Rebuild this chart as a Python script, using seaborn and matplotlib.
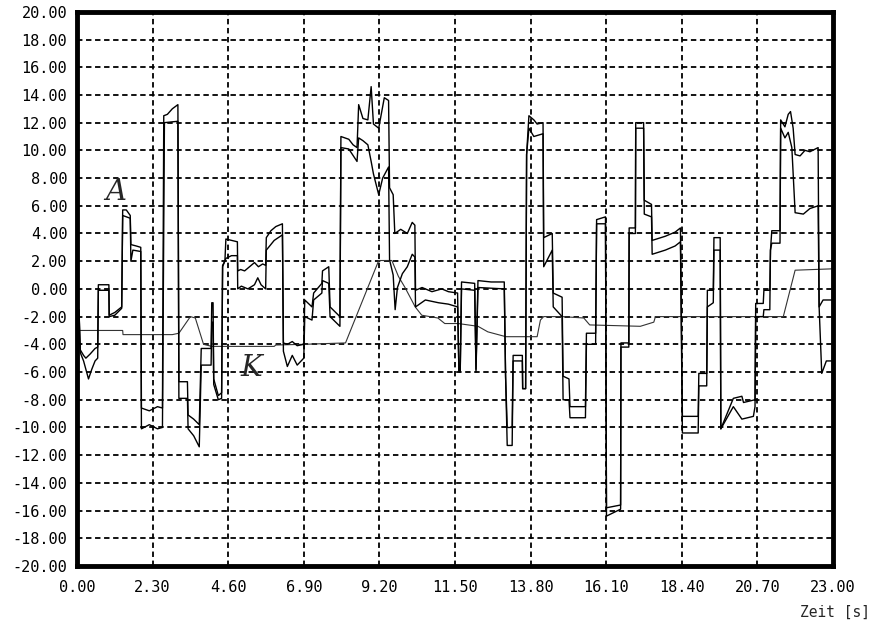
import matplotlib
matplotlib.use("Agg")
import matplotlib.pyplot as plt
import seaborn as sns
import pandas as pd

# Trace A, upper line (time in s, value)
a_upper_t = [0.00, 0.06, 0.10, 0.20, 0.27, 0.40, 0.55, 0.63, 0.65, 0.97, 0.98, 1.15, 1.36, 1.39, 1.50,
             1.62, 1.64, 1.80, 1.94, 1.96, 2.20, 2.45, 2.60, 2.64, 2.75, 2.90, 3.07, 3.10, 3.36, 3.38,
             3.55, 3.72, 3.78, 4.08, 4.10, 4.14, 4.16, 4.30, 4.40, 4.43, 4.50, 4.53, 4.70, 4.88, 4.89,
             4.98, 5.10, 5.25, 5.40, 5.52, 5.65, 5.74, 5.76, 5.90, 6.05, 6.25, 6.28, 6.40, 6.55, 6.70,
             6.90, 6.93, 7.15, 7.20, 7.45, 7.47, 7.66, 7.70, 8.00, 8.03, 8.27, 8.40, 8.52, 8.57, 8.70,
             8.85, 8.95, 9.02, 9.18, 9.35, 9.48, 9.51, 9.62, 9.67, 9.85, 10.05, 10.20, 10.28, 10.30,
             10.50, 10.80, 11.10, 11.30, 11.58, 11.62, 11.66, 11.70, 12.10, 12.14, 12.20, 12.60, 13.00,
             13.04, 13.09, 13.24, 13.27, 13.55, 13.56, 13.65, 13.68, 13.75, 13.90, 14.00, 14.18, 14.20,
             14.46, 14.49, 14.76, 14.79, 14.97, 15.00, 15.47, 15.50, 15.78, 15.81, 16.08, 16.11, 16.54,
             16.55, 16.79, 16.80, 16.99, 17.00, 17.24, 17.26, 17.48, 17.50, 17.90, 18.20, 18.36, 18.42,
             18.90, 18.92, 19.16, 19.18, 19.36, 19.38, 19.57, 19.59, 19.97, 20.23, 20.28, 20.63, 20.65,
             20.88, 20.90, 21.08, 21.10, 21.14, 21.39, 21.41, 21.54, 21.64, 21.71, 21.79, 21.85, 22.00,
             22.15, 22.30, 22.55, 22.58, 22.70, 23.00]
a_upper_v = [-1.5, -1.5, -4.4, -4.8, -5.0, -4.7, -4.3, -4.2, 0.3, 0.3, -1.9, -1.7, -1.3, 5.7, 5.7,
             5.3, 3.2, 3.1, 3.0, -8.6, -8.8, -8.5, -8.6, 12.5, 12.6, 13.0, 13.3, -6.7, -6.7, -9.1,
             -9.4, -9.8, -4.3, -4.3, -1.0, -1.0, -6.5, -7.7, -7.5, 1.7, 2.0, 3.6, 3.5, 3.4, 1.3,
             1.4, 1.3, 1.6, 1.9, 1.6, 1.8, 1.7, 3.7, 4.2, 4.5, 4.7, -3.9, -4.0, -3.8, -4.1,
             -4.0, -0.8, -1.3, -0.3, 0.4, 1.3, 1.6, -1.3, -2.0, 11.0, 10.8, 10.4, 10.2, 13.3, 12.3,
             12.2, 14.6, 11.9, 11.6, 13.8, 13.6, 7.3, 6.8, 4.0, 4.3, 4.0, 4.8, 4.6, -0.1,
             0.1, -0.2, 0.0, -0.2, -0.3, -5.9, -5.9, 0.5, 0.4, -5.8, 0.6, 0.5, 0.5,
             -6.3, -10.0, -10.0, -4.8, -4.8, -7.2, -7.2, 9.7, 12.5, 12.2, 11.9, 12.0, 3.7,
             4.0, -0.3, -0.6, -6.3, -6.5, -8.5, -8.5, -3.2, -3.2, 5.0, 5.2, -15.8, -15.6,
             -3.9, -3.9, 4.4, 4.4, 12.0, 12.0, 6.4, 6.1, 3.5, 3.8, 4.1, 4.4, -9.2,
             -9.2, -6.1, -6.1, -0.1, -0.1, 3.7, 3.7, -10.1, -7.9, -7.75, -8.2, -8.0, -1.05,
             -1.05, -0.1, -0.1, 2.8, 4.2, 4.2, 12.2, 11.7, 12.6, 12.8, 11.6, 9.7, 9.6,
             10.0, 9.9, 10.2, -1.3, -0.8, -0.8]

# Trace A, lower line
a_lower_t = [0.00, 0.06, 0.10, 0.20, 0.35, 0.45, 0.55, 0.63, 0.65, 0.97, 0.98, 1.15, 1.36, 1.39, 1.62,
             1.64, 1.70, 1.94, 1.96, 2.20, 2.45, 2.60, 2.66, 3.07, 3.10, 3.36, 3.38, 3.55, 3.72, 3.78,
             4.08, 4.10, 4.14, 4.16, 4.30, 4.40, 4.43, 4.53, 4.70, 4.88, 4.89, 5.00, 5.20, 5.40, 5.50,
             5.60, 5.74, 5.76, 6.00, 6.25, 6.28, 6.40, 6.55, 6.70, 6.90, 6.93, 7.15, 7.20, 7.45, 7.47,
             7.66, 7.70, 8.00, 8.03, 8.27, 8.52, 8.57, 8.70, 8.85, 8.95, 9.02, 9.18, 9.30, 9.48, 9.51,
             9.62, 9.68, 9.75, 9.90, 10.05, 10.20, 10.28, 10.30, 10.60, 11.00, 11.30, 11.58, 11.62,
             11.66, 11.70, 12.10, 12.14, 12.20, 13.00, 13.04, 13.09, 13.24, 13.27, 13.55, 13.56, 13.65,
             13.68, 13.75, 13.90, 14.18, 14.20, 14.46, 14.49, 14.76, 14.79, 14.97, 15.00, 15.47, 15.50,
             15.78, 15.81, 16.08, 16.11, 16.54, 16.55, 16.79, 16.80, 16.99, 17.00, 17.24, 17.26, 17.48,
             17.50, 17.90, 18.20, 18.36, 18.42, 18.90, 18.92, 19.16, 19.18, 19.36, 19.38, 19.57, 19.59,
             19.97, 20.23, 20.58, 20.63, 20.65, 20.88, 20.90, 21.08, 21.10, 21.14, 21.39, 21.41, 21.54,
             21.64, 21.75, 21.85, 22.10, 22.30, 22.55, 22.58, 22.66, 22.80, 23.00]
a_lower_v = [-1.5, -1.5, -4.6, -5.2, -6.5, -5.8, -5.2, -5.0, -0.1, -0.1, -2.0, -1.9, -1.4, 5.3, 5.1,
             2.0, 2.8, 2.7, -10.1, -9.8, -10.1, -10.0, 12.0, 12.1, -7.9, -7.9, -10.1, -10.6, -11.4, -5.5,
             -5.5, -2.4, -2.4, -6.9, -8.0, -7.9, 1.6, 2.2, 2.4, 2.4, 0.0, 0.2, 0.0, 0.3, 0.8,
             0.3, 0.0, 2.8, 3.5, 3.9, -4.5, -5.6, -4.8, -5.5, -5.0, -2.0, -2.25, -0.8, -0.3, 0.6,
             0.4, -2.0, -2.7, 10.2, 10.1, 9.2, 10.9, 10.7, 10.4, 9.2, 8.3, 6.8, 8.0, 8.8, 2.1,
             1.0, -1.5, 0.1, 1.1, 1.6, 2.5, 2.3, -1.3, -0.8, -1.0, -1.1, -1.3, -6.0,
             -6.0, 0.0, -0.1, -6.0, 0.1, 0.0, -6.3, -11.3, -11.3, -5.2, -5.2, -7.2, -7.2,
             9.7, 11.6, 11.0, 11.2, 1.6, 2.8, -1.3, -2.0, -8.0, -8.0, -9.3, -9.3, -4.0,
             -4.0, 4.7, 4.7, -16.4, -15.9, -4.2, -4.2, 4.0, 4.0, 11.6, 11.6, 5.4, 5.2,
             2.5, 2.8, 3.1, 3.4, -10.4, -10.4, -7.0, -7.0, -1.3, -1.0, 2.8, 2.8, -10.1,
             -8.5, -9.4, -9.2, -8.5, -2.0, -2.0, -1.5, -1.5, 2.8, 3.3, 3.3, 11.6, 10.9,
             11.3, 10.2, 5.5, 5.4, 5.8, 6.0, -1.3, -6.1, -5.2, -5.2]

# Trace K
k_t = [0.00, 1.39, 1.40, 2.90, 3.10, 3.45, 3.60, 3.85, 4.10, 6.00, 6.05, 6.90, 8.17, 9.18, 9.58,
       9.78, 9.98, 10.18, 10.29, 10.49, 10.98, 11.19, 11.60, 12.20, 12.50, 13.05, 14.00, 14.10,
       14.20, 14.76, 15.42, 15.60, 17.14, 17.55, 17.60, 21.49, 21.85, 23.00]
k_v = [-3.0, -3.0, -3.3, -3.3, -3.2, -2.0, -2.1, -4.0, -4.15, -4.15, -4.05, -4.0, -3.9, 2.05, 2.05,
       0.9, 0.1, -0.8, -1.3, -1.9, -2.1, -2.5, -2.5, -2.7, -3.1, -3.45, -3.45, -2.25,
       -2.0, -2.0, -2.1, -2.6, -2.7, -2.4, -2.0, -2.0, 1.35, 1.45]

x_ticks = [0.0, 2.3, 4.6, 6.9, 9.2, 11.5, 13.8, 16.1, 18.4, 20.7, 23.0]
y_ticks = list(range(-20, 21, 2))

sns.set_style("white")
plt.rcParams["font.family"] = ["DejaVu Sans Mono", "DejaVu Sans"]

fig = plt.figure(figsize=(8.8, 6.29), dpi=100)
ax = fig.add_axes([0.0875, 0.1002, 0.859, 0.881])

upper = pd.DataFrame({"t": a_upper_t, "v": a_upper_v})
lower = pd.DataFrame({"t": a_lower_t, "v": a_lower_v})
kline = pd.DataFrame({"t": k_t, "v": k_v})

sns.lineplot(data=kline, x="t", y="v", sort=False, estimator=None,
             color="#333333", linewidth=0.8, ax=ax)
sns.lineplot(data=lower, x="t", y="v", sort=False, estimator=None,
             color="black", linewidth=1.0, ax=ax)
sns.lineplot(data=upper, x="t", y="v", sort=False, estimator=None,
             color="black", linewidth=1.0, ax=ax)

ax.set_xlim(0, 23)
ax.set_ylim(-20, 20)
ax.set_xticks(x_ticks)
ax.set_yticks(y_ticks)
ax.set_xticklabels([f"{t:.2f}" for t in x_ticks])
ax.set_yticklabels([f"{v:.2f}" for v in y_ticks])
ax.set_xlabel("")
ax.set_ylabel("")
ax.grid(True, color="black", linestyle=(0, (3, 2)), linewidth=1.3)
ax.set_axisbelow(True)
ax.tick_params(axis="both", length=0, labelsize=11, colors="black")
ax.tick_params(axis="x", pad=10)
ax.tick_params(axis="y", pad=7)
for s in ax.spines.values():
    s.set_visible(True)
    s.set_color("black")
    s.set_linewidth(3.5)

# hand-written trace markers
ax.text(1.19, 7.0, "A", fontsize=21, style="italic", family="DejaVu Serif",
        fontweight="light", ha="center", va="center")
ax.text(5.29, -5.7, "K", fontsize=21, style="italic", family="DejaVu Serif",
        fontweight="light", ha="center", va="center")

fig.text(870 / 880, 1 - 612 / 629, "Zeit [s]", ha="right", va="center", fontsize=10.5)

fig.savefig("out.png", dpi=100)
